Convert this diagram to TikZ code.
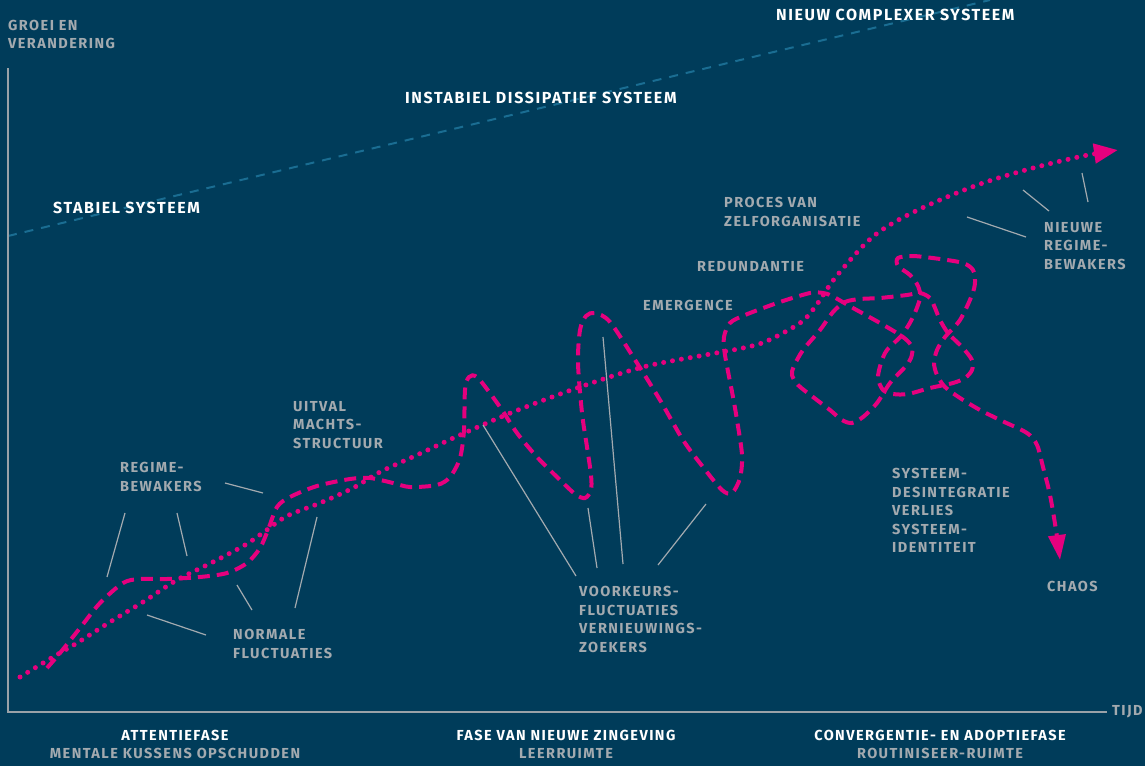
\documentclass[tikz,border=0pt]{standalone}
\usepackage{fontspec}
\newfontfamily\labelfont{Fira Sans}[LetterSpace=10]
\usepackage{tikz}
\usetikzlibrary{arrows.meta}

\definecolor{navy}{HTML}{003C5A}
\definecolor{pink}{HTML}{E6007E}
\definecolor{labelgray}{HTML}{A3AAAF}
\definecolor{axisgray}{HTML}{9AA2A8}
\definecolor{teal}{HTML}{1A6D92}

\begin{document}
\begin{tikzpicture}[
    x=1pt, y=-1pt,
    % grey annotation text
    lbl/.style={font=\labelfont\bfseries\fontsize{14.5}{18.5}\selectfont,
        text=labelgray, align=left, inner sep=0pt, anchor=north west},
    % white system titles
    ttl/.style={font=\labelfont\bfseries\fontsize{16}{20}\selectfont,
        text=white, inner sep=0pt, anchor=north west},
    phase/.style={font=\labelfont\bfseries\fontsize{14.5}{18}\selectfont,
        text=white, align=center, inner sep=0pt, anchor=north},
    leader/.style={draw=labelgray, line width=1.2pt},
    axis/.style={draw=axisgray, line width=2.4pt},
    fluct/.style={draw=pink, line width=4pt, dash pattern=on 12pt off 7pt},
    trend/.style={draw=pink, line width=5pt, line cap=round, dash pattern=on 0pt off 9pt}
]

% Background
\fill[navy] (0,0) rectangle (1145,766);
\useasboundingbox (0,0) rectangle (1145,766);

% Stability threshold
\draw[teal, line width=2pt, dash pattern=on 9pt off 8pt] (8,236) -- (990,0);

% Axes
\coordinate (origin) at (8,712);
\coordinate (ytop) at (8,68);
\coordinate (xend) at (1107,712);
\draw[axis] (ytop) -- (origin) -- (xend);
\node[lbl, anchor=west] (tijd) at (1112,712) {TIJD};
\node[lbl] (groei) at (8,20) {GROEI EN\\VERANDERING};

% System titles
\node[ttl] (stabiel) at (53,202) {STABIEL SYSTEEM};
\node[ttl] (instabiel) at (405,92) {INSTABIEL DISSIPATIEF SYSTEEM};
\node[ttl] (nieuw) at (776,9) {NIEUW COMPLEXER SYSTEEM};

% Main development line (dotted)
\draw[trend, -{Triangle[length=24pt, width=19pt, fill=pink]}]
    plot[smooth, tension=0.55] coordinates {
    (20,677) (53,657) (77,643) (110,622) (143,602) (177,580) (213,562)
    (245,545) (264,532) (287,516) (320,503) (353,488) (380,472) (417,455)
    (460,435) (513,412) (577,388) (643,367) (705,355) (743,348) (767,341)
    (800,323) (815,307) (835,278) (867,242) (893,223) (933,203) (983,183)
    (1033,168) (1083,156) (1118,150)};

% Fluctuations (dashed)
\draw[fluct, -{Triangle[length=25pt, width=17pt, fill=pink]}]
    plot[smooth, tension=0.5] coordinates {
    (47,668) (60,653) (80,628) (100,603) (123,583) (140,579) (167,579)
    (200,577) (227,573) (247,563) (260,548) (268,530) (277,507) (290,497)
    (317,486) (350,479) (370,478) (393,483) (410,487) (437,485) (450,477)
    (460,458) (464,430) (465,390) (469,377) (478,378) (500,407) (517,433)
    (537,457) (557,477) (575,494) (585,498) (591,490) (591,475) (587,447)
    (582,413) (578,363) (580,330) (586,316) (595,313) (610,322) (637,363)
    (660,400) (683,440) (703,467) (722,490) (732,493) (740,478) (742,455)
    (737,420) (733,397) (725,355) (724,337) (730,323) (745,315) (780,302)
    (810,293) (823,293) (832,296) (853,308) (880,323) (903,337) (912,347)
    (911,358) (905,367) (890,383) (877,403) (863,417) (852,423) (842,420)
    (830,410) (813,397) (798,385) (792,375) (794,366) (803,350) (820,330)
    (833,312) (845,302) (860,299) (880,298) (907,295) (920,293) (930,298)
    (935,308) (940,320) (948,333) (962,347) (972,360) (972,370) (965,378)
    (953,383) (930,388) (908,394) (893,394) (883,390) (878,378) (881,363)
    (887,350) (902,335) (913,317) (920,298) (918,286) (910,275) (898,266)
    (898,258) (913,256) (940,259) (963,263) (973,270) (975,282) (972,295)
    (960,320) (945,337) (937,350) (934,363) (937,375) (945,387) (960,398)
    (980,410) (1000,420) (1027,433) (1037,445) (1043,467) (1050,495)
    (1056,530) (1060,560)};

% Annotations
\node[lbl] (regime) at (120,462) {REGIME-\\BEWAKERS};
\node[lbl] (uitval) at (293,401) {UITVAL\\MACHTS-\\STRUCTUUR};
\node[lbl] (normale) at (233,629) {NORMALE\\FLUCTUATIES};
\node[lbl] (voorkeur) at (579,586) {VOORKEURS-\\FLUCTUATIES\\VERNIEUWINGS-\\ZOEKERS};
\node[lbl] (emergence) at (643,300) {EMERGENCE};
\node[lbl] (redundantie) at (697,261) {REDUNDANTIE};
\node[lbl] (proces) at (724,197) {PROCES VAN\\ZELFORGANISATIE};
\node[lbl] (nieuwregime) at (1044,222) {NIEUWE\\REGIME-\\BEWAKERS};
\node[lbl] (desintegratie) at (892,468) {SYSTEEM-\\DESINTEGRATIE\\VERLIES\\SYSTEEM-\\IDENTITEIT};
\node[lbl] (chaos) at (1047,581) {CHAOS};

% Leader lines
\coordinate (r1a) at (107,577); \coordinate (r1b) at (125,513);
\coordinate (r2a) at (187,556); \coordinate (r2b) at (177,513);
\coordinate (r3a) at (263,493); \coordinate (r3b) at (225,483);
\coordinate (n1a) at (147,615); \coordinate (n1b) at (206,635);
\coordinate (n2a) at (237,585); \coordinate (n2b) at (252,610);
\coordinate (n3a) at (317,517); \coordinate (n3b) at (295,608);
\coordinate (v1a) at (483,425); \coordinate (v1b) at (576,576);
\coordinate (v2a) at (588,508); \coordinate (v2b) at (597,568);
\coordinate (v3a) at (603,337); \coordinate (v3b) at (623,564);
\coordinate (v4a) at (706,504); \coordinate (v4b) at (658,565);
\coordinate (w1a) at (967,217); \coordinate (w1b) at (1026,237);
\coordinate (w2a) at (1023,190); \coordinate (w2b) at (1049,211);
\coordinate (w3a) at (1082,173); \coordinate (w3b) at (1088,202);
\foreach \p in {r1,r2,r3,n1,n2,n3,v1,v2,v3,v4,w1,w2,w3}
    \draw[leader] (\p a) -- (\p b);

% Phases along the time axis
\node[phase] (fase1) at (175,730) {ATTENTIEFASE\\\textcolor{labelgray}{MENTALE KUSSENS OPSCHUDDEN}};
\node[phase] (fase2) at (566,730) {FASE VAN NIEUWE ZINGEVING\\\textcolor{labelgray}{LEERRUIMTE}};
\node[phase] (fase3) at (940,730) {CONVERGENTIE- EN ADOPTIEFASE\\\textcolor{labelgray}{ROUTINISEER-RUIMTE}};

\end{tikzpicture}
\end{document}
